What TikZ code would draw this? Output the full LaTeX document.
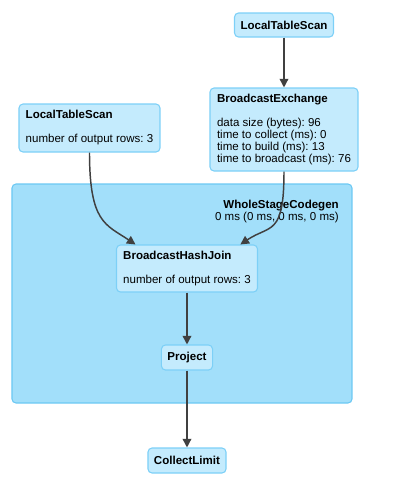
\documentclass[tikz,border=0pt]{standalone}
\usepackage{fontspec}
\setmainfont{Liberation Sans}
\frenchspacing
\usetikzlibrary{arrows.meta}
\definecolor{opfill}{HTML}{C4EBFD}
\definecolor{opline}{HTML}{7DD0F7}
\definecolor{stagefill}{HTML}{A2DFFA}
\definecolor{stageline}{HTML}{6CC8F3}
\definecolor{edgegray}{HTML}{404040}

\begin{document}
\begin{tikzpicture}[
    x=0.75pt,
    y=0.75pt,
    >={Triangle[width=6.5pt, length=6.5pt]},
    op/.style={draw=opline, fill=opfill, line width=0.8pt, rounded corners=3pt,
        font=\fontsize{8.65}{9}\selectfont, align=left, inner xsep=4.5pt, inner ysep=0pt},
    flow/.style={->, edgegray, line width=1.1pt}
]
    \useasboundingbox (0,0) rectangle (401,-480);
    % stage cluster
    \draw[fill=stagefill, draw=stageline, line width=0.8pt, rounded corners=3pt]
        (12,-184) rectangle (352,-403);
    \node[font=\fontsize{8.65}{9}\selectfont, align=right, anchor=north east, inner sep=0pt]
        (stage) at (339,-200) {\textbf{WholeStageCodegen}\\0 ms (0 ms, 0 ms, 0 ms)};
    % operators
    \node[op, minimum width=73.5pt, minimum height=18pt, align=center] (scan2) at (284,-25)
        {\textbf{LocalTableScan}};
    \node[op, minimum width=111pt, minimum height=62.25pt] (bex) at (284,-129.5)
        {\textbf{BroadcastExchange}\\[9pt]data size (bytes): 96\\time to collect (ms): 0\\time to build (ms): 13\\time to broadcast (ms): 76};
    \node[op, minimum width=105.75pt, minimum height=36pt] (scan1) at (89.5,-128)
        {\textbf{LocalTableScan}\\[9pt]number of output rows: 3};
    \node[op, minimum width=105.75pt, minimum height=35.25pt] (bhj) at (187,-268.5)
        {\textbf{BroadcastHashJoin}\\[9pt]number of output rows: 3};
    \node[op, minimum width=37.5pt, minimum height=18.75pt, align=center] (proj) at (187,-357.5)
        {\textbf{Project}};
    \node[op, minimum width=58.5pt, minimum height=18.75pt, align=center] (limit) at (187,-460.5)
        {\textbf{CollectLimit}};
    % edges
    \draw[flow] (scan2) -- (bex);
    \draw[flow] (bex.south) .. controls +(0,-65) and +(30,20) .. ([xshift=40pt]bhj.north);
    \draw[flow] (scan1.south) .. controls +(0,-70) and +(-30,20) .. ([xshift=-38.6pt]bhj.north);
    \draw[flow] (bhj) -- (proj);
    \draw[flow] (proj) -- (limit);
\end{tikzpicture}
\end{document}
